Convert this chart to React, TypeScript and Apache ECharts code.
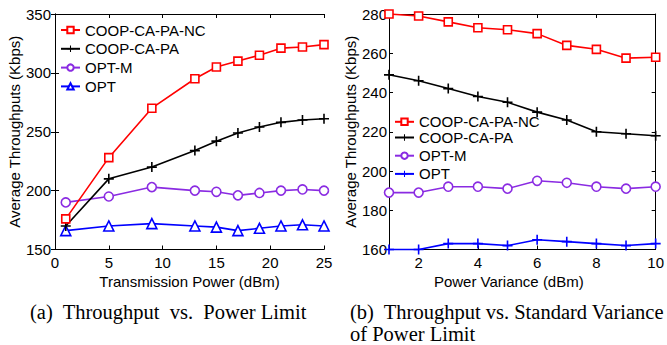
import React, { useEffect, useRef } from "react";
import * as echarts from "echarts";

const powerX = [1, 5, 9, 13, 15, 17, 19, 21, 23, 25];
const ncA = [176, 228, 270, 295, 305, 310, 315, 321, 322, 324];
const caA = [170, 210, 220, 234, 242, 249, 254, 258, 260, 261];
const optmA = [190, 195, 203, 200, 199, 196, 198, 200, 201, 200];
const optA = [166, 170, 172, 170, 169, 166, 168, 170, 171, 170];

const varX = [1, 2, 3, 4, 5, 6, 7, 8, 9, 10];
const ncB = [280, 279, 276, 273, 272, 270, 264, 262, 257.5, 258];
const caB = [249, 246, 242, 238, 235, 230, 226, 220, 219, 218];
const optmB = [189, 189, 192, 192, 191, 195, 194, 192, 191, 192];
const optB = [160, 160, 163, 163, 162, 165, 164, 163, 162, 163];

const names = ["COOP-CA-PA-NC", "COOP-CA-PA", "OPT-M", "OPT"];
const xTicksB = [2, 4, 6, 8, 10];

const FONT = "'Liberation Sans', Arial, sans-serif";
const SERIF = "'Liberation Serif', 'Times New Roman', serif";
const PLUS = "path://M0,4.2 H10 V5.8 H0 Z M4.2,0 H5.8 V10 H4.2 Z";

const RED = "#ff0000";
const BLACK = "#000000";
const PURPLE = "#8a2be2";
const BLUE = "#0000ff";

function pairs(xs: number[], ys: number[]) {
  return xs.map((x, i) => [x, ys[i]]);
}

function mkSeries(
  name: string,
  xIdx: number,
  yIdx: number,
  data: number[][],
  color: string,
  symbol: string,
  size: number,
  hollow: boolean
) {
  return {
    type: "line",
    name,
    xAxisIndex: xIdx,
    yAxisIndex: yIdx,
    data,
    symbol,
    symbolSize: size,
    clip: false,
    lineStyle: { color, width: 1.6 },
    itemStyle: hollow
      ? { color: "#ffffff", borderColor: color, borderWidth: 1.6 }
      : { color, borderWidth: 0 },
    emphasis: { disabled: true },
  };
}

export default function App() {
  const ref = useRef<HTMLDivElement>(null);
  useEffect(() => {
    if (!ref.current) return;
    const chart = echarts.init(ref.current, null, { renderer: "svg" });
    const axisLine = { show: true, lineStyle: { color: "#000", width: 1 } };
    const tick = { show: true, inside: true, length: 4, lineStyle: { color: "#000" } };
    const label = { color: "#000", fontSize: 15, fontFamily: FONT };
    const nameStyle = { color: "#000", fontSize: 15, fontFamily: FONT };
    const legendText = { color: "#000", fontSize: 15, fontFamily: FONT, lineHeight: 15 };

    const option: any = {
      animation: false,
      backgroundColor: "#ffffff",
      grid: [
        { left: 55, top: 14, width: 269, height: 235.5 },
        { left: 389, top: 14, width: 269, height: 235.5 },
      ],
      xAxis: [
        {
          type: "value", gridIndex: 0, position: "bottom", min: 0, max: 25, interval: 5,
          axisLine, axisTick: tick, splitLine: { show: false },
          axisLabel: { ...label, margin: 5, showMinLabel: true, showMaxLabel: true },
          name: "Transmission Power (dBm)", nameLocation: "middle", nameGap: 19, nameTextStyle: nameStyle,
        },
        {
          type: "value", gridIndex: 0, position: "top", min: 0, max: 25, interval: 5,
          axisLine, axisTick: tick, splitLine: { show: false }, axisLabel: { show: false },
        },
        {
          type: "value", gridIndex: 1, position: "bottom", min: 1, max: 10,
          axisLine, axisTick: { ...tick, customValues: xTicksB }, splitLine: { show: false },
          axisLabel: { ...label, margin: 5, customValues: xTicksB },
          name: "Power Variance (dBm)", nameLocation: "middle", nameGap: 19,
          nameTextStyle: { ...nameStyle, padding: [0, 27, 0, 0] },
        },
        {
          type: "value", gridIndex: 1, position: "top", min: 1, max: 10,
          axisLine, axisTick: { ...tick, customValues: xTicksB }, splitLine: { show: false },
          axisLabel: { show: false },
        },
      ],
      yAxis: [
        {
          type: "value", gridIndex: 0, position: "left", min: 150, max: 350, interval: 50,
          axisLine, axisTick: tick, splitLine: { show: false },
          axisLabel: { ...label, margin: 4, showMinLabel: true, showMaxLabel: true },
          name: "Average Throughputs (Kbps)", nameLocation: "middle", nameGap: 32, nameTextStyle: nameStyle,
        },
        {
          type: "value", gridIndex: 0, position: "right", min: 150, max: 350, interval: 50,
          axisLine, axisTick: tick, splitLine: { show: false }, axisLabel: { show: false },
        },
        {
          type: "value", gridIndex: 1, position: "left", min: 160, max: 280, interval: 20,
          axisLine, axisTick: tick, splitLine: { show: false },
          axisLabel: { ...label, margin: 2, showMinLabel: true, showMaxLabel: true },
          name: "Average Throughputs (Kbps)", nameLocation: "middle", nameGap: 30, nameTextStyle: nameStyle,
        },
        {
          type: "value", gridIndex: 1, position: "right", min: 160, max: 280, interval: 20,
          axisLine, axisTick: tick, splitLine: { show: false }, axisLabel: { show: false },
        },
      ],
      legend: [
        {
          data: names, orient: "vertical", left: 55, top: 17.5, itemGap: 3.8,
          itemWidth: 19, itemHeight: 8, selectedMode: false, textStyle: legendText,
        },
        {
          data: ["b:" + names[0]], orient: "vertical", left: 389, top: 109.3,
          itemWidth: 19, itemHeight: 8, selectedMode: false,
          formatter: (n: string) => n.replace(/^b:/, ""), textStyle: legendText,
        },
        {
          data: names.slice(1).map((n) => "b:" + n), orient: "vertical", left: 389, top: 125, itemGap: 3.2,
          itemWidth: 19, itemHeight: 8, selectedMode: false,
          formatter: (n: string) => n.replace(/^b:/, ""), textStyle: legendText,
        },
      ],
      series: [
        mkSeries(names[3], 0, 0, pairs(powerX, optA), BLUE, "triangle", 10, true),
        mkSeries(names[2], 0, 0, pairs(powerX, optmA), PURPLE, "circle", 9, true),
        mkSeries(names[1], 0, 0, pairs(powerX, caA), BLACK, PLUS, 10, false),
        mkSeries(names[0], 0, 0, pairs(powerX, ncA), RED, "rect", 8, true),
        mkSeries("b:" + names[3], 2, 2, pairs(varX, optB), BLUE, PLUS, 10, false),
        mkSeries("b:" + names[2], 2, 2, pairs(varX, optmB), PURPLE, "circle", 9, true),
        mkSeries("b:" + names[1], 2, 2, pairs(varX, caB), BLACK, PLUS, 10, false),
        mkSeries("b:" + names[0], 2, 2, pairs(varX, ncB), RED, "rect", 8, true),
      ],
      graphic: [
        {
          type: "text", left: 30, top: 301,
          style: {
            text: "(a)  Throughput  vs.  Power Limit",
            font: `20.5px ${SERIF}`, fill: "#000", lineHeight: 22,
          },
        },
        {
          type: "text", left: 350, top: 301,
          style: {
            text: "(b)  Throughput vs. Standard Variance\nof Power Limit",
            font: `20.5px ${SERIF}`, fill: "#000", lineHeight: 22,
          },
        },
      ],
    };
    chart.setOption(option);
    return () => chart.dispose();
  }, []);
  return (
    <div
      ref={ref}
      style={{ position: "absolute", left: 0, top: 0, width: 667, height: 345 }}
    />
  );
}
